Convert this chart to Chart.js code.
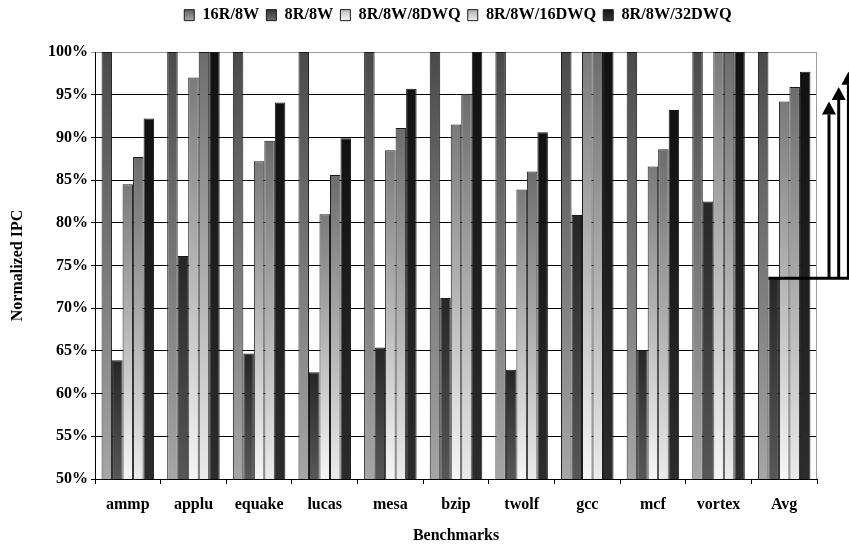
<!DOCTYPE html>
<html>
<head>
<meta charset="utf-8">
<script src="https://cdn.jsdelivr.net/npm/chart.js@4/dist/chart.umd.min.js"></script>
<style>
  html, body { margin: 0; padding: 0; background: #fff; }
  #wrap { width: 849px; height: 550px; }
</style>
</head>
<body>
<div id="wrap"><canvas id="ipc" width="849" height="550"></canvas></div>
<script>
// Benchmarks on the x axis
const benchmarks = ['ammp', 'applu', 'equake', 'lucas', 'mesa', 'bzip', 'twolf', 'gcc', 'mcf', 'vortex', 'Avg'];

// Normalized IPC (%) per configuration
const r16w8   = [100, 100, 100, 100, 100, 100, 100, 100, 100, 100, 100];
const r8w8    = [63.9, 76.1, 64.7, 62.5, 65.4, 71.2, 62.8, 80.9, 65.1, 82.5, 73.5];
const dwq8    = [84.5, 97.0, 87.2, 81.0, 88.5, 91.5, 83.9, 100, 86.6, 100, 94.2];
const dwq16   = [87.7, 100, 89.6, 85.6, 91.1, 95.1, 86.0, 100, 88.6, 100, 95.9];
const dwq32   = [92.2, 100, 94.1, 89.9, 95.7, 100, 90.6, 100, 93.2, 100, 97.7];

// Series names
const seriesNames = ['16R/8W', '8R/8W', '8R/8W/8DWQ', '8R/8W/16DWQ', '8R/8W/32DWQ'];

// Y axis range
const yMin = 50, yMax = 100, yStep = 5;

// Bar shading (top colour, bottom colour) and the matching legend swatch shading
const fills = [
  ['#4a4a4a', '#a6a6a6'],
  ['#262626', '#575757'],
  ['#7a7a7a', '#f6f6f6'],
  ['#6c6c6c', '#ebebeb'],
  ['#111111', '#2c2c2c']
];
const swatchFills = [
  ['#555555', '#a4a4a4'],
  ['#2e2e2e', '#6a6a6a'],
  ['#b4b4b4', '#f6f6f6'],
  ['#a2a2a2', '#ededed'],
  ['#111111', '#333333']
];
const seriesValues = [r16w8, r8w8, dwq8, dwq16, dwq32];

// Vertical gradient fill for each bar, from its top down to the axis
function barGradient(i) {
  return (ctx) => {
    const chart = ctx.chart;
    const area = chart.chartArea;
    if (!area || ctx.raw === undefined) return fills[i][1];
    const yTop = chart.scales.y.getPixelForValue(ctx.raw);
    const g = chart.ctx.createLinearGradient(0, yTop, 0, area.bottom);
    g.addColorStop(0, fills[i][0]);
    g.addColorStop(1, fills[i][1]);
    return g;
  };
}

// Legend swatch gradient at the legend row
function swatchGradient(chart, i) {
  const g = chart.ctx.createLinearGradient(0, 8, 0, 20);
  g.addColorStop(0, swatchFills[i][0]);
  g.addColorStop(1, swatchFills[i][1]);
  return g;
}

Chart.defaults.font.family = "'Liberation Serif', 'Times New Roman', serif";
Chart.defaults.font.weight = 'bold';
Chart.defaults.font.size = 16;
Chart.defaults.color = '#000';

// Fixed legend band height, with the legend row centred a little right of the canvas middle
const legendBand = {
  id: 'legendBand',
  beforeInit(chart) {
    const fit = chart.legend.fit;
    chart.legend.fit = function () {
      fit.call(this);
      this.height = 52;
    };
  },
  afterLayout(chart) {
    const lg = chart.legend;
    lg.left = 67;
    lg.right = 849;
    lg.width = lg.right - lg.left;
  }
};

// Light plot-area frame on the right edge
const plotFrame = {
  id: 'plotFrame',
  beforeDatasetsDraw(chart) {
    const { ctx, chartArea: a } = chart;
    ctx.save();
    ctx.strokeStyle = '#9a9a9a';
    ctx.lineWidth = 1;
    ctx.beginPath();
    ctx.moveTo(a.right - 0.5, a.top);
    ctx.lineTo(a.right - 0.5, a.bottom);
    ctx.stroke();
    ctx.restore();
  }
};

// Gain arrows: from the 8R/8W average up to each DWQ average
const gainArrows = {
  id: 'gainArrows',
  afterDatasetsDraw(chart) {
    const { ctx, chartArea, scales: { y } } = chart;
    const last = benchmarks.length - 1;
    const baseBar = chart.getDatasetMeta(1).data[last];
    const yBase = y.getPixelForValue(r8w8[last]);
    ctx.save();
    ctx.strokeStyle = '#000';
    ctx.fillStyle = '#000';
    ctx.lineWidth = 3;
    ctx.beginPath();
    ctx.moveTo(baseBar.x - baseBar.width / 2, yBase);
    ctx.lineTo(chart.width, yBase);
    ctx.stroke();
    [dwq8, dwq16, dwq32].forEach((arr, i) => {
      const x = chartArea.right + 12 + i * 9.7;
      const yTip = y.getPixelForValue(arr[last]);
      const headH = 13, headW = 14;
      ctx.beginPath();
      ctx.moveTo(x, yBase);
      ctx.lineTo(x, yTip + headH);
      ctx.stroke();
      ctx.beginPath();
      ctx.moveTo(x, yTip);
      ctx.lineTo(x - headW / 2, yTip + headH);
      ctx.lineTo(x + headW / 2, yTip + headH);
      ctx.closePath();
      ctx.fill();
    });
    ctx.restore();
  }
};

new Chart(document.getElementById('ipc'), {
  type: 'bar',
  data: {
    labels: benchmarks,
    datasets: seriesNames.map((name, i) => ({
      label: name,
      data: seriesValues[i],
      backgroundColor: barGradient(i),
      borderColor: '#1a1a1a',
      borderWidth: 1,
      categoryPercentage: 0.8,
      barPercentage: 1.0
    }))
  },
  options: {
    responsive: false,
    animation: false,
    devicePixelRatio: 1,
    layout: { padding: { left: 0, right: 32, top: 0, bottom: 0 } },
    plugins: {
      legend: {
        position: 'top',
        labels: {
          boxWidth: 10,
          boxHeight: 11,
          padding: 7,
          font: { size: 16.3, weight: 'bold' },
          color: '#000',
          generateLabels(chart) {
            const items = Chart.defaults.plugins.legend.labels.generateLabels(chart);
            items.forEach((it) => {
              it.fillStyle = swatchGradient(chart, it.datasetIndex);
              it.strokeStyle = '#1a1a1a';
              it.lineWidth = 1;
            });
            return items;
          }
        }
      },
      tooltip: { enabled: false }
    },
    scales: {
      x: {
        afterFit(scale) { scale.height = 71; },
        grid: {
          offset: true,
          drawOnChartArea: false,
          drawTicks: true,
          tickLength: 5,
          color: '#000'
        },
        border: { color: '#000', width: 1 },
        ticks: { padding: 11, font: { size: 16, weight: 'bold' }, color: '#000' },
        title: {
          display: true,
          text: 'Benchmarks',
          font: { size: 16, weight: 'bold' },
          color: '#000',
          padding: { top: 4, bottom: 5 }
        }
      },
      y: {
        min: yMin,
        max: yMax,
        afterFit(scale) { scale.width = 95; },
        ticks: {
          stepSize: yStep,
          padding: 3,
          callback: (v) => v + '%',
          font: { size: 16, weight: 'bold' },
          color: '#000'
        },
        grid: {
          color: (c) => (c.tick && c.tick.value === yMax ? '#9a9a9a' : '#000'),
          lineWidth: 1,
          tickLength: 4
        },
        border: { color: '#000', width: 1 },
        title: {
          display: true,
          text: 'Normalized IPC',
          font: { size: 16, weight: 'bold' },
          color: '#000',
          padding: { top: 8, bottom: 0 }
        }
      }
    }
  },
  plugins: [legendBand, plotFrame, gainArrows]
});
</script>
</body>
</html>
